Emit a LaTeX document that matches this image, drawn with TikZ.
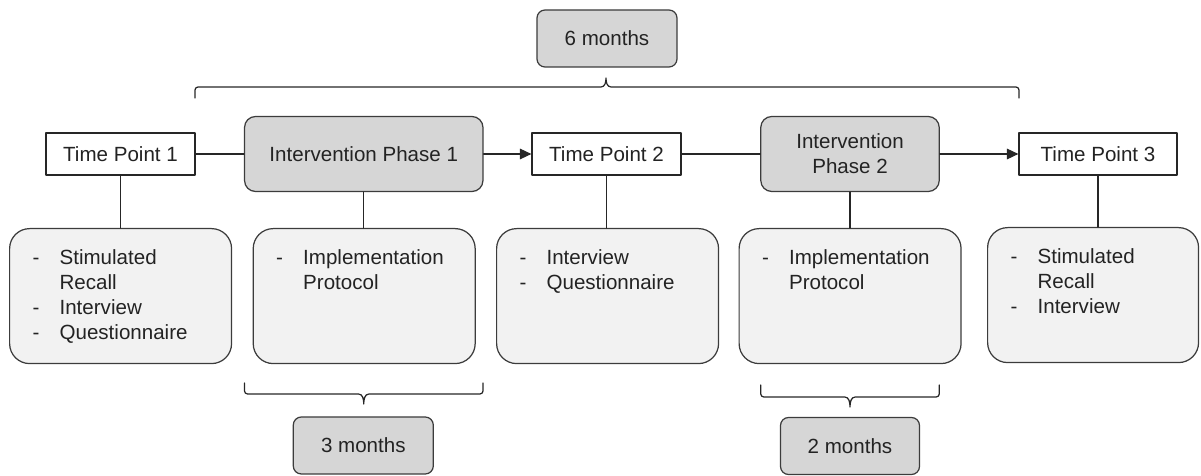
\documentclass[tikz,border=0pt]{standalone}
\usepackage{fontspec}
\setmainfont{Liberation Sans}
\usepackage{array}
\usetikzlibrary{arrows.meta}
\definecolor{phasegray}{RGB}{214,214,214}
\definecolor{listgray}{RGB}{242,242,242}
\definecolor{edgegray}{RGB}{60,60,60}
\definecolor{txtgray}{RGB}{35,35,35}
\newcommand{\methodlist}[1]{\begin{tabular}[t]{@{}p{0.54cm}@{}l@{}}#1\end{tabular}}

\begin{document}
\begin{tikzpicture}[x=0.02cm, y=0.02cm, line cap=round, line join=round, >={Triangle[length=6.5pt,width=6pt]},
	every node/.style={font=\fontsize{11.7}{14.2}\selectfont, text=txtgray},
	timept/.style={draw=black!85, fill=white, line width=0.7pt, minimum width=2.98cm, minimum height=0.84cm, inner sep=0pt},
	phase/.style={draw=edgegray, fill=phasegray, line width=0.7pt, rounded corners=0.22cm, minimum height=1.5cm, align=center, inner sep=0pt},
	months/.style={draw=edgegray, fill=phasegray, line width=0.7pt, rounded corners=0.16cm, minimum width=2.8cm, minimum height=1.14cm, inner sep=0pt},
	methods/.style={draw=edgegray, fill=listgray, line width=0.7pt, rounded corners=0.4cm, anchor=north west, inner xsep=0.46cm, inner ysep=0pt, text width=3.52cm, text height=0.72cm, text depth=1.98cm, align=left},
	link/.style={draw=black!85, line width=0.7pt}]
	\useasboundingbox (0,0) rectangle (1201,476);
	% time line
	\node[months] (sixm) at (607,437.5) {6 months};
	\node[timept] (tp1) at (120.5,322) {Time Point 1};
	\node[phase, minimum width=4.77cm] (ip1) at (363.75,322) {Intervention Phase 1};
	\node[timept] (tp2) at (606.5,322) {Time Point 2};
	\node[phase, minimum width=3.57cm] (ip2) at (850,322) {Intervention\\Phase 2};
	\node[timept, minimum width=3.16cm] (tp3) at (1098,322) {Time Point 3};
	\draw[link] (tp1.east) -- (ip1.west);
	\draw[link,->] (ip1.east) -- (tp2.west);
	\draw[link] (tp2.east) -- (ip2.west);
	\draw[link,->] (ip2.east) -- (tp3.west);
	% methods
	\node[methods] (m1) at (9,248) {\methodlist{- & Stimulated\\ & Recall\\ - & Interview\\ - & Questionnaire}};
	\node[methods] (m2) at (252.6,248) {\methodlist{- & Implementation\\ & Protocol}};
	\node[methods] (m3) at (496,248) {\methodlist{- & Interview\\ - & Questionnaire}};
	\node[methods] (m4) at (738.5,248) {\methodlist{- & Implementation\\ & Protocol}};
	\node[methods, text width=3.3cm] (m5) at (987,249) {\methodlist{- & Stimulated\\ & Recall\\ - & Interview}};
	\draw[link] (tp1.south) -- (tp1.south |- m1.north);
	\draw[link] (ip1.south) -- (ip1.south |- m2.north);
	\draw[link] (tp2.south) -- (tp2.south |- m3.north);
	\draw[link] (ip2.south) -- (ip2.south |- m4.north);
	\draw[link] (tp3.south) -- (tp3.south |- m5.north);
	% braces
	\draw[link] (195,378) -- (195,386) to[out=90,in=180] (198,389) -- (601,389) to[out=0,in=-90] (606,398) to[out=-90,in=180] (611,389) -- (1016,389) to[out=0,in=90] (1019,386) -- (1019,378);
	\draw[link] (244.5,93) -- (244.5,85) to[out=-90,in=180] (247.5,82) -- (358.5,82) to[out=0,in=90] (363.75,72) to[out=90,in=180] (369,82) -- (480,82) to[out=0,in=-90] (483,85) -- (483,93);
	\draw[link] (760.75,91) -- (760.75,82) to[out=-90,in=180] (763.75,79) -- (844.75,79) to[out=0,in=90] (850,69) to[out=90,in=180] (855.25,79) -- (936.25,79) to[out=0,in=-90] (939.25,82) -- (939.25,91);
	\node[months] (thrm) at (363.3,30.5) {3 months};
	\node[months, minimum width=2.78cm] (twom) at (850,30) {2 months};
\end{tikzpicture}
\end{document}
